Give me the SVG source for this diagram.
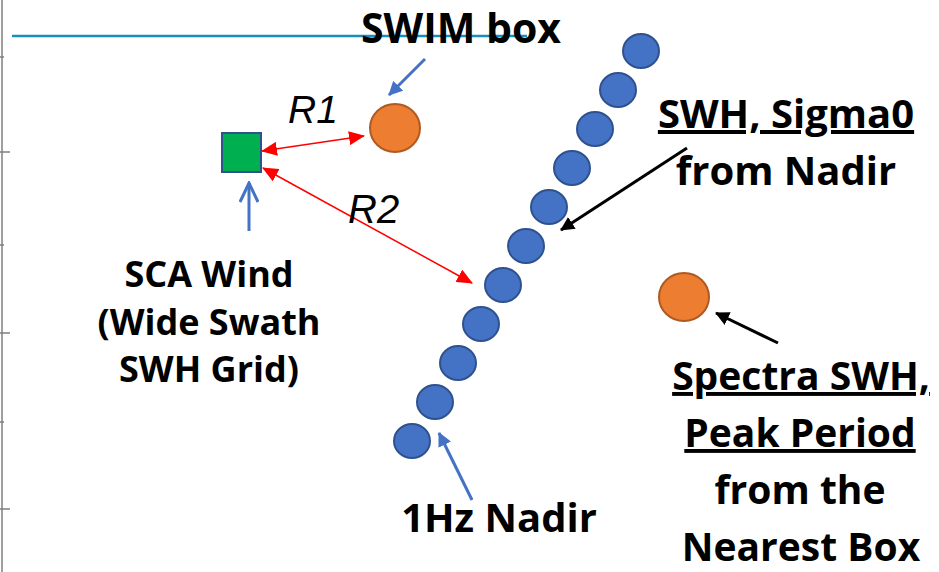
<svg xmlns="http://www.w3.org/2000/svg" width="939" height="572" viewBox="0 0 939 572">
<defs>
<style>
.lbl{font-family:"Open Sans","Noto Sans","Liberation Sans",sans-serif;font-weight:bold;fill:#000;text-anchor:middle}
.it{font-family:"Liberation Sans",Arial,sans-serif;font-style:italic;fill:#000}
.dot{fill:#4472C4;stroke:#2F528F;stroke-width:2}
.box{fill:#ED7D31;stroke:#AE5A21;stroke-width:2}
.red{stroke:#FF0000;stroke-width:1.5;fill:none}
.blue{stroke:#4472C4;stroke-width:3;fill:none}
.blk{stroke:#000;stroke-width:3;fill:none}
.ax{stroke:#7F7F7F;stroke-width:1.5}
</style>
<marker id="ahRed" markerUnits="userSpaceOnUse" viewBox="0 0 16 14" refX="15" refY="7" markerWidth="16" markerHeight="14" orient="auto-start-reverse"><path d="M0,0 L16,7 L0,14 Z" fill="#FF0000"/></marker>
<marker id="ahBlue" markerUnits="userSpaceOnUse" viewBox="0 0 14 14" refX="13" refY="7" markerWidth="14" markerHeight="14" orient="auto"><path d="M0,0 L14,7 L0,14 Z" fill="#4472C4"/></marker>
<marker id="ahBlk" markerUnits="userSpaceOnUse" viewBox="0 0 14 14" refX="13" refY="7" markerWidth="14" markerHeight="14" orient="auto"><path d="M0,0 L14,7 L0,14 Z" fill="#000"/></marker>
<marker id="ahOpen" markerUnits="userSpaceOnUse" viewBox="0 0 24 20" refX="22" refY="10" markerWidth="24" markerHeight="20" orient="auto"><path d="M3,1 L22,10 L3,19" fill="none" stroke="#4472C4" stroke-width="3"/></marker>
</defs>

<g id="axis">
<line class="ax" x1="2" y1="0" x2="2" y2="572"/>
<line class="ax" x1="0" y1="57" x2="4" y2="57"/>
<line class="ax" x1="0" y1="152" x2="10" y2="152"/>
<line class="ax" x1="0" y1="245" x2="4" y2="245"/>
<line class="ax" x1="0" y1="333" x2="10" y2="333"/>
<line class="ax" x1="0" y1="422" x2="4" y2="422"/>
<line class="ax" x1="0" y1="509" x2="10" y2="509"/>
</g>
<line id="topline" x1="12" y1="36" x2="527" y2="36" stroke="#168FC0" stroke-width="2.5"/>

<g id="nadir">
<ellipse class="dot" cx="641" cy="51" rx="18" ry="17"/>
<ellipse class="dot" cx="618" cy="90" rx="18" ry="17"/>
<ellipse class="dot" cx="595" cy="129" rx="18" ry="17"/>
<ellipse class="dot" cx="572" cy="168" rx="18" ry="17"/>
<ellipse class="dot" cx="549" cy="207" rx="18" ry="17"/>
<ellipse class="dot" cx="526" cy="246" rx="18" ry="17"/>
<ellipse class="dot" cx="503" cy="285" rx="18" ry="17"/>
<ellipse class="dot" cx="481" cy="324" rx="18" ry="17"/>
<ellipse class="dot" cx="458" cy="363" rx="18" ry="17"/>
<ellipse class="dot" cx="435" cy="402" rx="18" ry="17"/>
<ellipse class="dot" cx="412" cy="441" rx="18" ry="17"/>
</g>

<g id="swimbox"><ellipse class="box" cx="395" cy="128" rx="25" ry="24"/></g>
<g id="nearestbox"><ellipse class="box" cx="684" cy="297" rx="25" ry="24"/></g>
<g id="scagrid"><rect x="222" y="133" width="39" height="39" fill="#00B050" stroke="#2F528F" stroke-width="2"/></g>

<g id="connectors">
<line class="red" x1="262" y1="151" x2="364" y2="136" marker-start="url(#ahRed)" marker-end="url(#ahRed)"/>
<line class="red" x1="263" y1="168" x2="472" y2="283" marker-start="url(#ahRed)" marker-end="url(#ahRed)"/>
<line class="blue" x1="425" y1="59" x2="389" y2="95" marker-end="url(#ahBlue)"/>
<line class="blue" x1="249" y1="231" x2="249" y2="183" marker-end="url(#ahOpen)"/>
<line class="blk" x1="687" y1="148" x2="561" y2="230" marker-end="url(#ahBlk)"/>
<line class="blk" x1="778" y1="343" x2="716" y2="313" marker-end="url(#ahBlk)"/>
<line class="blue" x1="472" y1="500" x2="439" y2="433" marker-end="url(#ahBlue)"/>
</g>

<g id="labels">
<text class="it" x="288" y="123" font-size="39">R1</text>
<text class="it" x="348" y="223" font-size="40">R2</text>
<text class="lbl" x="461" y="43" font-size="41">SWIM box</text>
<text class="lbl" x="786" y="128" font-size="40" text-decoration="underline">SWH, Sigma0</text>
<text class="lbl" x="786" y="185" font-size="40">from Nadir</text>
<text class="lbl" x="209" y="287" font-size="36">SCA Wind</text>
<text class="lbl" x="209" y="335" font-size="36">(Wide Swath</text>
<text class="lbl" x="209" y="382" font-size="36">SWH Grid)</text>
<text class="lbl" x="499" y="532" font-size="40">1Hz Nadir</text>
<text class="lbl" x="801" y="390" font-size="39" text-decoration="underline">Spectra SWH,</text>
<text class="lbl" x="800" y="447" font-size="39" text-decoration="underline">Peak Period</text>
<text class="lbl" x="800" y="504" font-size="39">from the</text>
<text class="lbl" x="801" y="561" font-size="39">Nearest Box</text>
</g>
</svg>
